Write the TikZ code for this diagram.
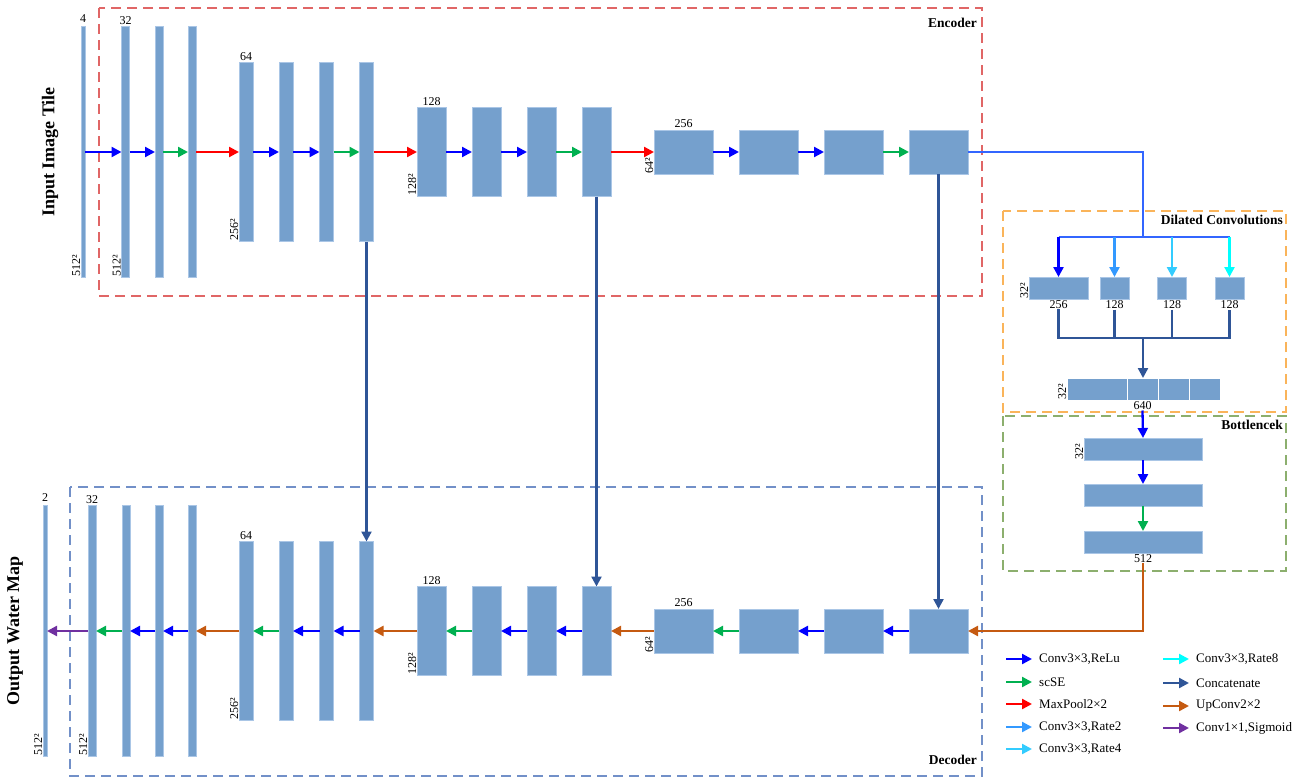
\documentclass[tikz,border=0pt]{standalone}
\usepackage{fontspec}
\setmainfont{Liberation Serif}
\usepackage{tikz}
\usetikzlibrary{arrows.meta}
\usetikzlibrary{positioning}

\definecolor{blkc}{RGB}{117,160,205}
\definecolor{blkl}{RGB}{170,198,230}
\definecolor{convc}{RGB}{0,0,255}
\definecolor{scsec}{RGB}{0,176,80}
\definecolor{poolc}{RGB}{255,0,0}
\definecolor{rtwoc}{RGB}{51,153,255}
\definecolor{rfourc}{RGB}{51,204,255}
\definecolor{reightc}{RGB}{0,255,255}
\definecolor{catc}{RGB}{47,85,151}
\definecolor{upc}{RGB}{197,90,17}
\definecolor{sigc}{RGB}{112,48,160}
\definecolor{feedc}{RGB}{51,102,255}
\definecolor{encc}{RGB}{224,102,102}
\definecolor{decc}{RGB}{114,144,200}
\definecolor{dilc}{RGB}{250,180,90}
\definecolor{botc}{RGB}{140,175,110}

\tikzset{
  blk/.style={fill=blkc,draw=blkl,line width=0.6pt,inner sep=0pt,outer sep=0pt},
  lvzero/.style={blk,minimum width=4pt,minimum height=251pt},
  lvone/.style={blk,minimum width=8pt,minimum height=251pt},
  lvtwo/.style={blk,minimum width=14pt,minimum height=179pt},
  lvthree/.style={blk,minimum width=29pt,minimum height=89pt},
  lvfour/.style={blk,minimum width=59pt,minimum height=44pt},
  flat/.style={blk,minimum height=22pt},
  num/.style={font=\fontsize{12}{13}\selectfont,inner sep=1pt},
  dim/.style={num,rotate=90,anchor=south west,inner sep=0.5pt},
  ttl/.style={font=\fontsize{13.5}{15}\selectfont\bfseries,anchor=east,inner sep=0pt},
  side/.style={font=\fontsize{18}{20}\selectfont\bfseries,rotate=90},
  key/.style={font=\fontsize{13}{14}\selectfont,anchor=west,inner sep=0pt},
  frame/.style={line width=1.4pt,dash pattern=on 10pt off 6pt},
  flow/.style={line width=2.3pt,-{Triangle[length=10pt,width=10pt]}},
  aconv/.style={flow,draw=convc},
  ascse/.style={flow,draw=scsec},
  apool/.style={flow,draw=poolc},
  arate2/.style={flow,draw=rtwoc},
  arate4/.style={flow,draw=rfourc},
  arate8/.style={flow,draw=reightc},
  aconcat/.style={flow,draw=catc},
  aup/.style={flow,draw=upc},
  asig/.style={flow,draw=sigc},
  pipe/.style={line width=2.3pt}
}

\begin{document}
\begin{tikzpicture}[x=1pt,y=-1pt]
\useasboundingbox (0,0) rectangle (1301,784);

% frames
\draw[frame,draw=encc] (99,8) rectangle (982,296);
\draw[frame,draw=decc] (70,487) rectangle (982,776);
\draw[frame,draw=dilc] (1003,211) rectangle (1286,412);
\draw[frame,draw=botc] (1003,416) rectangle (1286,571);
\node[ttl] (tenc) at (977,23) {Encoder};
\node[ttl] (tdec) at (977,760) {Decoder};
\node[ttl] (tdil) at (1283,220) {Dilated Convolutions};
\node[ttl] (tbot) at (1283,425) {Bottlencek};
\node[side] (tin) at (50,152) {Input Image Tile};
\node[side] (tout) at (15,631) {Output Water Map};

% encoder
\node[lvzero] (in0) at (83,152) {};
\node[lvone] (e11) at (125.5,152) {};
\node[lvone] (e12) at (159,152) {};
\node[lvone] (e13) at (192,152) {};
\node[lvtwo] (e21) at (246,152) {};
\node[lvtwo] (e22) at (286,152) {};
\node[lvtwo] (e23) at (326.5,152) {};
\node[lvtwo] (e24) at (366.5,152) {};
\node[lvthree] (e31) at (431.5,152) {};
\node[lvthree] (e32) at (486.5,152) {};
\node[lvthree] (e33) at (541.5,152) {};
\node[lvthree] (e34) at (596.5,152) {};
\node[lvfour] (e41) at (683.5,152) {};
\node[lvfour] (e42) at (768.5,152) {};
\node[lvfour] (e43) at (853.5,152) {};
\node[lvfour] (e44) at (938.5,152) {};
\node[num,above=3pt of in0] (n0) {4};
\node[num,above=1pt of e11] (n1) {32};
\node[num,above=1pt of e21] (n2) {64};
\node[num,above=1pt of e31] (n3) {128};
\node[num,above=1pt of e41] (n4) {256};
\node[dim] (s0) at (in0.south west) {512²};
\node[dim] (s1) at (e11.south west) {512²};
\node[dim] (s2) at (e21.south west) {256²};
\node[dim] (s3) at (e31.south west) {128²};
\node[dim] (s4) at (e41.south west) {64²};
\draw[aconv] (in0) -- (e11);
\draw[aconv] (e11) -- (e12);
\draw[ascse] (e12) -- (e13);
\draw[apool] (e13) -- (e21);
\draw[aconv] (e21) -- (e22);
\draw[aconv] (e22) -- (e23);
\draw[ascse] (e23) -- (e24);
\draw[apool] (e24) -- (e31);
\draw[aconv] (e31) -- (e32);
\draw[aconv] (e32) -- (e33);
\draw[ascse] (e33) -- (e34);
\draw[apool] (e34) -- (e41);
\draw[aconv] (e41) -- (e42);
\draw[aconv] (e42) -- (e43);
\draw[ascse] (e43) -- (e44);

% dilated convolutions
\node[flat,minimum width=59pt] (a1) at (1058.5,288) {};
\node[flat,minimum width=29pt] (a2) at (1114.5,288) {};
\node[flat,minimum width=29pt] (a3) at (1172,288) {};
\node[flat,minimum width=29pt] (a4) at (1229.5,288) {};
\node[num,below=0pt of a1] (la1) {256};
\node[num,below=0pt of a2] (la2) {128};
\node[num,below=0pt of a3] (la3) {128};
\node[num,below=0pt of a4] (la4) {128};
\node[dim] (sa) at (a1.south west) {32²};
\coordinate (sp) at (1143,237);
\coordinate (mg) at (1143,338);
\draw[pipe,feedc] (e44) -- (e44 -| sp) -- (sp);
\draw[pipe,feedc] (a1 |- sp) -- (a4 |- sp);
\draw[aconv] (a1 |- sp) -- (a1);
\draw[arate2] (a2 |- sp) -- (a2);
\draw[arate4] (a3 |- sp) -- (a3);
\draw[arate8] (a4 |- sp) -- (a4);

\node[flat,draw=white,line width=1pt,minimum width=60pt] (c1) at (1097,389) {};
\node[flat,draw=white,line width=1pt,minimum width=31pt] (c2) at (1142.5,389) {};
\node[flat,draw=white,line width=1pt,minimum width=31pt] (c3) at (1173.5,389) {};
\node[flat,draw=white,line width=1pt,minimum width=31pt] (c4) at (1204.5,389) {};
\node[num,below=0pt of c2] (lc) {640};
\node[dim] (sc) at (c1.south west) {32²};
\draw[pipe,catc] (la1.south) -- (la1.south |- mg) -- (la4.south |- mg) -- (la4.south);
\draw[pipe,catc] (la2.south) -- (la2.south |- mg);
\draw[pipe,catc] (la3.south) -- (la3.south |- mg);
\draw[aconcat] (mg) -- (mg |- c2.north);

% bottleneck
\node[flat,minimum width=118pt] (b1) at (1143,449) {};
\node[flat,minimum width=118pt] (b2) at (1143,495) {};
\node[flat,minimum width=118pt] (b3) at (1143,542) {};
\node[num,below=0pt of b3] (lb) {512};
\node[dim] (sb) at (b1.south west) {32²};
\draw[aconv] (lc.south) -- (b1.north);
\draw[aconv] (b1) -- (b2);
\draw[ascse] (b2) -- (b3);

% decoder
\node[lvzero] (out0) at (45,631) {};
\node[lvone] (d11) at (92,631) {};
\node[lvone] (d12) at (126,631) {};
\node[lvone] (d13) at (159,631) {};
\node[lvone] (d14) at (192,631) {};
\node[lvtwo] (d21) at (246,631) {};
\node[lvtwo] (d22) at (286,631) {};
\node[lvtwo] (d23) at (326.5,631) {};
\node[lvtwo] (d24) at (366.5,631) {};
\node[lvthree] (d31) at (431.5,631) {};
\node[lvthree] (d32) at (486.5,631) {};
\node[lvthree] (d33) at (541.5,631) {};
\node[lvthree] (d34) at (596.5,631) {};
\node[lvfour] (d41) at (683.5,631) {};
\node[lvfour] (d42) at (768.5,631) {};
\node[lvfour] (d43) at (853.5,631) {};
\node[lvfour] (d44) at (938.5,631) {};
\node[num,above=3pt of out0] (m0) {2};
\node[num,above=1pt of d11] (m1) {32};
\node[num,above=1pt of d21] (m2) {64};
\node[num,above=1pt of d31] (m3) {128};
\node[num,above=1pt of d41] (m4) {256};
\node[dim] (t0) at (out0.south west) {512²};
\node[dim] (t1) at (d11.south west) {512²};
\node[dim] (t2) at (d21.south west) {256²};
\node[dim] (t3) at (d31.south west) {128²};
\node[dim] (t4) at (d41.south west) {64²};
\draw[aup] (lb.south) |- (d44.east);
\draw[aconv] (d44) -- (d43);
\draw[aconv] (d43) -- (d42);
\draw[ascse] (d42) -- (d41);
\draw[aup] (d41) -- (d34);
\draw[aconv] (d34) -- (d33);
\draw[aconv] (d33) -- (d32);
\draw[ascse] (d32) -- (d31);
\draw[aup] (d31) -- (d24);
\draw[aconv] (d24) -- (d23);
\draw[aconv] (d23) -- (d22);
\draw[ascse] (d22) -- (d21);
\draw[aup] (d21) -- (d14);
\draw[aconv] (d14) -- (d13);
\draw[aconv] (d13) -- (d12);
\draw[ascse] (d12) -- (d11);
\draw[asig] (d11) -- (out0);

% skip connections
\draw[aconcat] (e24.south) -- (d24.north);
\draw[aconcat] (e34.south) -- (d34.north);
\draw[aconcat] (e44.south) -- (d44.north);

% legend
\node[key] (k1) at (1039,659) {Conv3×3,ReLu};
\node[key] (k2) at (1039,682) {scSE};
\node[key] (k3) at (1039,704) {MaxPool2×2};
\node[key] (k4) at (1039,727) {Conv3×3,Rate2};
\node[key] (k5) at (1039,749) {Conv3×3,Rate4};
\node[key] (k6) at (1196,659) {Conv3×3,Rate8};
\node[key] (k7) at (1196,683) {Concatenate};
\node[key] (k8) at (1196,706) {UpConv2×2};
\node[key] (k9) at (1196,728) {Conv1×1,Sigmoid};
\draw[aconv] ([xshift=-33pt]k1.west) -- ([xshift=-7pt]k1.west);
\draw[ascse] ([xshift=-33pt]k2.west) -- ([xshift=-7pt]k2.west);
\draw[apool] ([xshift=-33pt]k3.west) -- ([xshift=-7pt]k3.west);
\draw[arate2] ([xshift=-33pt]k4.west) -- ([xshift=-7pt]k4.west);
\draw[arate4] ([xshift=-33pt]k5.west) -- ([xshift=-7pt]k5.west);
\draw[arate8] ([xshift=-33pt]k6.west) -- ([xshift=-7pt]k6.west);
\draw[aconcat] ([xshift=-33pt]k7.west) -- ([xshift=-7pt]k7.west);
\draw[aup] ([xshift=-33pt]k8.west) -- ([xshift=-7pt]k8.west);
\draw[asig] ([xshift=-33pt]k9.west) -- ([xshift=-7pt]k9.west);
\end{tikzpicture}
\end{document}
